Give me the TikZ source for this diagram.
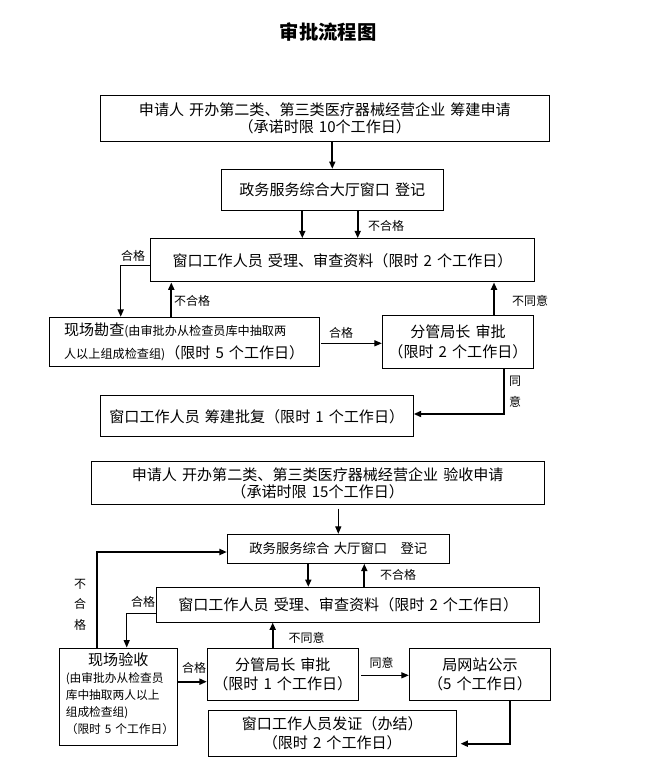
\documentclass[tikz,border=0pt]{standalone}
\usepackage{fontspec}
\setmainfont[WordSpace=1.5]{Noto Sans CJK SC}
\usetikzlibrary{arrows.meta,calc}
\tikzset{
  box/.style={draw, line width=0.75pt, inner sep=0pt, align=center, font=\fontsize{11.3}{13}\selectfont},
  sz/.style 2 args={minimum width=#1*0.75pt, minimum height=#2*0.75pt},
  lbl/.style={inner sep=0pt, font=\fontsize{9}{10}\selectfont},
  arr/.style={line width=1.3pt, -{Triangle[length=5.5pt,width=4.5pt]}},
  tarr/.style={line width=0.75pt, -{Triangle[length=5.5pt,width=4.5pt]}},
}
\begin{document}
\begin{tikzpicture}[x=0.75pt,y=-0.75pt]
\useasboundingbox (0,0) rectangle (650,778);
\node[inner sep=0pt, font=\fontsize{14.5}{16}\selectfont\bfseries] (title) at (328,32) {审批流程图};

% ---------- part 1 ----------
\node[box, sz={449}{46}] (b1) at (324.8,118.3) {申请人 开办第二类、第三类医疗器械经营企业 筹建申请\\（承诺时限 10个工作日）};
\node[box, sz={222}{40.7}] (b2) at (332.3,189.7) {政务服务综合大厅窗口 登记};
\node[box, sz={383.6}{43.3}] (b3) at (342.5,260.3) {窗口工作人员 受理、审查资料（限时 2 个工作日）};
\node[box, sz={269.7}{49}, align=left, font=\fontsize{11.3}{17}\selectfont] (b4) at (184.2,341.8) {现场勘查{\fontsize{9.1}{17}\selectfont(由审批办从检查员库中抽取两}\\{\fontsize{9.1}{17}\selectfont 人以上组成检查组)}（限时 5 个工作日）};
\node[box, sz={151.4}{53}, font=\fontsize{11.3}{14.7}\selectfont] (b5) at (458,341.8) {分管局长 审批\\（限时 2 个工作日）};
\node[box, sz={313}{41.3}] (b6) at (256.8,416.3) {窗口工作人员 筹建批复（限时 1 个工作日）};

\coordinate (xa) at (302.3,0);
\coordinate (xb) at (357.7,0);
\coordinate (xc) at (120.7,0);
\coordinate (xd) at (171.3,0);
\coordinate (xe) at (494,0);
\coordinate (xf) at (504,0);
\coordinate (ya) at (0,265.7);
\coordinate (yb) at (0,343.3);
\coordinate (yc) at (0,414);

\draw[arr] (b2.north |- b1.south) -- (b2.north);
\draw[arr] (b2.south -| xa) -- (b3.north -| xa);
\draw[arr] (b2.south -| xb) -- (b3.north -| xb);
\draw[line width=1.1pt, -{Triangle[length=5.5pt,width=4.5pt]}] (b3.west |- ya) -| (b4.north -| xc);
\draw[arr] (b4.north -| xd) -- (b3.south -| xd);
\draw[arr] (b5.north -| xe) -- (b3.south -| xe);
\draw[tarr, shorten <=1.2pt] (b4.east |- yb) -- (b5.west |- yb);
\draw[arr] (b5.south -| xf) |- (b6.east |- yc);

\node[lbl] (l1) at (386,225.7) {不合格};
\node[lbl] (l2) at (133,255.7) {合格};
\node[lbl] (l3) at (192,300.7) {不合格};
\node[lbl] (l4) at (530,301.3) {不同意};
\node[lbl] (l5) at (341,332.7) {合格};
\node[lbl, align=center, font=\fontsize{9}{16.3}\selectfont] (l6) at (515,391.8) {同\\意};

% ---------- part 2 ----------
\node[box, sz={452.7}{43.3}, font=\fontsize{11.3}{13.3}\selectfont] (b7) at (317.7,483.3) {申请人 开办第二类、第三类医疗器械经营企业 验收申请\\（承诺时限 15个工作日）};
\node[box, sz={222}{29}, font=\fontsize{10}{12}\selectfont] (b8) at (338.3,548.8) {政务服务综合 大厅窗口\quad 登记};
\node[box, sz={383.3}{34.7}] (b9) at (348.3,604.7) {窗口工作人员 受理、审查资料（限时 2 个工作日）};
\node[box, sz={118}{97}] (b10) at (118.3,696.5) {};
\node[inner sep=0pt, font=\fontsize{11.3}{13}\selectfont] (t10a) at (118.3,660) {现场验收};
\node[inner sep=0pt, anchor=west, align=left, font=\fontsize{8.8}{12.7}\selectfont] (t10b) at (65.5,703.8) {(由审批办从检查员\\库中抽取两人以上\\组成检查组)\\（限时 5 个工作日）};
\node[box, sz={151}{52.3}, font=\fontsize{11.3}{14.5}\selectfont] (b11) at (282.8,674.2) {分管局长 审批\\（限时 1 个工作日）};
\node[box, sz={141.4}{52}, font=\fontsize{11.3}{14.5}\selectfont] (b12) at (480,674.3) {局网站公示\\（5 个工作日）};
\node[box, sz={248}{46}, font=\fontsize{11.3}{14.5}\selectfont] (b13) at (332.3,733.3) {窗口工作人员发证（办结）\\（限时 2 个工作日）};

\coordinate (xg) at (338.3,0);
\coordinate (xh) at (96.7,0);
\coordinate (xi) at (308.3,0);
\coordinate (xj) at (364.3,0);
\coordinate (xk) at (126.7,0);
\coordinate (xl) at (272.7,0);
\coordinate (xm) at (510.3,0);
\coordinate (yd) at (0,552);
\coordinate (ye) at (0,613.3);
\coordinate (yf) at (0,681.7);
\coordinate (yg) at (0,675.3);
\coordinate (yh) at (0,743.7);

\draw[tarr, shorten <=2.3pt] (b7.south -| xg) -- (b8.north -| xg);
\draw[arr] (b10.north -| xh) |- (b8.west |- yd);
\draw[arr] (b8.south -| xi) -- (b9.north -| xi);
\draw[arr] (b9.north -| xj) -- (b8.south -| xj);
\draw[tarr] (b9.west |- ye) -| (b10.north -| xk);
\draw[arr] (b10.east |- yf) -- (b11.west |- yf);
\draw[arr] (b11.north -| xl) -- (b9.south -| xl);
\draw[tarr, shorten <=2pt] (b11.east |- yg) -- (b12.west |- yg);
\draw[arr, shorten >=2.8pt] (b12.south -| xm) |- (b13.east |- yh);

\node[lbl] (m1) at (398,575) {不合格};
\node[lbl, align=center, font=\fontsize{9}{15.3}\selectfont] (m2) at (80,604.7) {不\\合\\格};
\node[lbl] (m3) at (143,601.7) {合格};
\node[lbl] (m4) at (194,667.7) {合格};
\node[lbl] (m5) at (306.7,637.7) {不同意};
\node[lbl] (m6) at (381.7,663.3) {同意};
\end{tikzpicture}
\end{document}
